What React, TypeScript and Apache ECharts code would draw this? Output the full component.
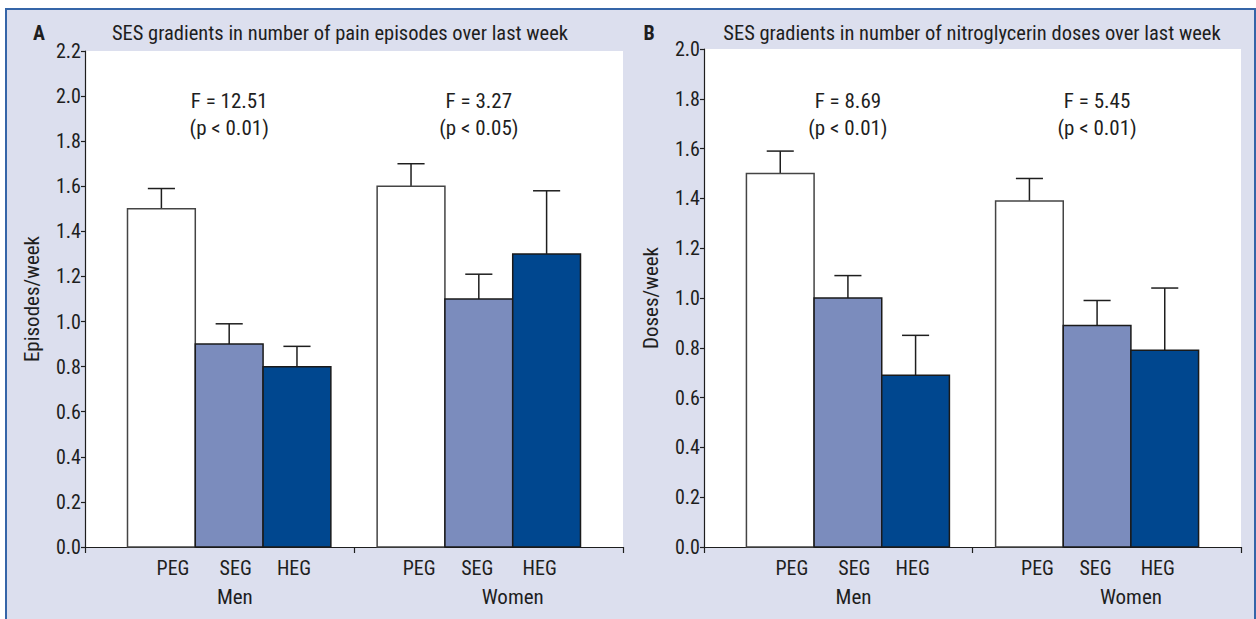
import React, { useEffect, useRef } from "react";
import * as echarts from "echarts";

// ---------- data ----------
const groups = ["Men", "Women"];
const subgroups = ["PEG", "SEG", "HEG"];

const painMen = [1.5, 0.9, 0.8];
const painWomen = [1.6, 1.1, 1.3];
const painMenUpper = [1.59, 0.99, 0.89];
const painWomenUpper = [1.7, 1.21, 1.58];
const painStatsF = ["F = 12.51", "F = 3.27"];
const painStatsP = ["(p < 0.01)", "(p < 0.05)"];

const nitroMen = [1.5, 1.0, 0.69];
const nitroWomen = [1.39, 0.89, 0.79];
const nitroMenUpper = [1.59, 1.09, 0.85];
const nitroWomenUpper = [1.48, 0.99, 1.04];
const nitroStatsF = ["F = 8.69", "F = 5.45"];
const nitroStatsP = ["(p < 0.01)", "(p < 0.01)"];

const panelLetters = ["A", "B"];
const panelTitles = [
  "SES gradients in number of pain episodes over last week",
  "SES gradients in number of nitroglycerin doses over last week",
];
const yNames = ["Episodes/week", "Doses/week"];
const yMax = [2.2, 2.0];

// ---------- styles / layout ----------
const FONT =
  "'Liberation Sans Narrow','Arial Narrow','Roboto Condensed','DejaVu Sans Condensed',sans-serif";
const INK = "#1e1e1e";
const subFill = ["#ffffff", "#7b8cbd", "#00478f"];
const subStroke = ["#444444", "#1a1a1a", "#1a1a1a"];
const BAR_FRAC = 0.252; // bar width as a fraction of a category band
const SHIFT_FRAC = 0.036; // groups pulled toward the middle
const CAP_FRAC = 0.4;
const subLabelOffsets = [
  [-0.173, 0.06, 0.277],
  [-0.258, -0.042, 0.19],
];
const groupLabelOffsets = [0.057, 0.09];

const grids = [
  { left: 85, right: 633, top: 51, bottom: 72 },
  { left: 704, right: 15, top: 49, bottom: 72 },
];
const titleX = [340, 972];
const letterX = [39, 649];

function textEl(x: number, y: number, text: string, size: number, extra: any = {}) {
  return {
    type: "text",
    x,
    y,
    style: {
      text,
      fill: INK,
      fontSize: size,
      fontFamily: FONT,
      align: "center",
      verticalAlign: "middle",
      textAlign: "center",
      textVerticalAlign: "middle",
      ...extra,
    },
  };
}

const renderBar = (params: any, api: any) => {
  const g = api.value(0);
  const s = api.value(1);
  const v = api.value(2);
  const u = api.value(3);
  const base = api.coord([g, 0]);
  const top = api.coord([g, v]);
  const up = api.coord([g, u]);
  const band = api.size([1, 0])[0];
  const w = band * BAR_FRAC;
  const cx = base[0] + (g === 0 ? 1 : -1) * band * SHIFT_FRAC + (s - 1) * w;
  const cap = w * CAP_FRAC;
  const lineStyle = { stroke: INK, lineWidth: 1.5 };
  return {
    type: "group",
    children: [
      {
        type: "line",
        shape: { x1: cx, y1: top[1], x2: cx, y2: up[1] },
        style: lineStyle,
      },
      {
        type: "line",
        shape: { x1: cx - cap / 2, y1: up[1], x2: cx + cap / 2, y2: up[1] },
        style: lineStyle,
      },
      {
        type: "rect",
        shape: { x: cx - w / 2, y: top[1], width: w, height: base[1] - top[1] },
        style: { fill: subFill[s], stroke: subStroke[s], lineWidth: 1.5 },
      },
    ],
  };
};

function makeLabelRenderer(statsF: string[], statsP: string[]) {
  return (params: any, api: any) => {
    const g = api.value(0);
    const base = api.coord([g, 0]);
    const band = api.size([1, 0])[0];
    const center = base[0] + (g === 0 ? 1 : -1) * band * SHIFT_FRAC;
    const children: any[] = [];
    subgroups.forEach((name, k) => {
      children.push(textEl(base[0] + subLabelOffsets[g][k] * band, base[1] + 21, name, 20));
    });
    children.push(textEl(base[0] + groupLabelOffsets[g] * band, base[1] + 50, groups[g], 21));
    children.push(textEl(center, base[1] - 446, statsF[g], 21));
    children.push(textEl(center, base[1] - 419, statsP[g], 21));
    return { type: "group", children };
  };
}

function buildPanel(i: number, men: number[], women: number[], menUp: number[], womenUp: number[], sf: string[], sp: string[]) {
  const means = [men, women];
  const uppers = [menUp, womenUp];
  const barData: any[] = [];
  groups.forEach((_, gi) =>
    subgroups.forEach((__, si) => barData.push([gi, si, means[gi][si], uppers[gi][si]]))
  );
  const grid = { ...grids[i], show: true, backgroundColor: "#ffffff", borderWidth: 0 };
  const xAxis = {
    type: "category",
    gridIndex: i,
    data: groups,
    boundaryGap: true,
    axisLine: { show: true, lineStyle: { color: INK, width: 1.2 } },
    axisTick: { show: true, length: 6, lineStyle: { color: INK, width: 1.2 } },
    axisLabel: { show: false },
    splitLine: { show: false },
  };
  const yAxis = {
    type: "value",
    gridIndex: i,
    min: 0,
    max: yMax[i],
    interval: 0.2,
    name: yNames[i],
    nameLocation: "middle",
    nameGap: 43,
    nameTextStyle: { fontSize: 21, fontFamily: FONT, color: INK },
    axisLine: { show: true, lineStyle: { color: INK, width: 1.2 } },
    axisTick: { show: true, length: 4, lineStyle: { color: INK, width: 1.2 } },
    axisLabel: {
      fontSize: 20,
      fontFamily: FONT,
      color: INK,
      margin: 4,
      formatter: (v: number) => v.toFixed(1),
    },
    splitLine: { show: false },
  };
  const series = [
    {
      type: "custom",
      name: "bars" + i,
      xAxisIndex: i,
      yAxisIndex: i,
      renderItem: renderBar,
      encode: { x: 0, y: 2 },
      data: barData,
      clip: false,
      z: 2,
    },
    {
      type: "custom",
      name: "labels" + i,
      xAxisIndex: i,
      yAxisIndex: i,
      renderItem: makeLabelRenderer(sf, sp),
      encode: { x: 0, y: 1 },
      data: groups.map((_, gi) => [gi, 0]),
      clip: false,
      silent: true,
      z: 3,
    },
  ];
  return { grid, xAxis, yAxis, series };
}

export default function App() {
  const ref = useRef<HTMLDivElement>(null);
  useEffect(() => {
    document.body.style.margin = "0";
    if (!ref.current) return;
    const chart = echarts.init(ref.current, undefined, { renderer: "svg" });
    const pA = buildPanel(0, painMen, painWomen, painMenUpper, painWomenUpper, painStatsF, painStatsP);
    const pB = buildPanel(1, nitroMen, nitroWomen, nitroMenUpper, nitroWomenUpper, nitroStatsF, nitroStatsP);
    const graphic: any[] = [];
    [0, 1].forEach((i) => {
      graphic.push(textEl(letterX[i], 33, panelLetters[i], 20, { fontWeight: "bold" }));
      graphic.push(textEl(titleX[i], 33, panelTitles[i], 20.5));
    });
    chart.setOption({
      animation: false,
      backgroundColor: "transparent",
      grid: [pA.grid, pB.grid],
      xAxis: [pA.xAxis, pB.xAxis],
      yAxis: [pA.yAxis, pB.yAxis],
      series: [...pA.series, ...pB.series],
      graphic,
    });
    return () => chart.dispose();
  }, []);
  return (
    <div style={{ position: "relative", width: 1256, height: 619, overflow: "hidden", background: "#ffffff" }}>
      <div
        style={{
          position: "absolute",
          left: 5,
          top: 8,
          width: 1247,
          height: 640,
          background: "#dcdfee",
          borderLeft: "2px solid #3565a8",
          borderTop: "2px solid #3565a8",
          borderRight: "2px solid #3565a8",
        }}
      />
      <div ref={ref} style={{ position: "absolute", left: 0, top: 0, width: 1256, height: 619 }} />
    </div>
  );
}
